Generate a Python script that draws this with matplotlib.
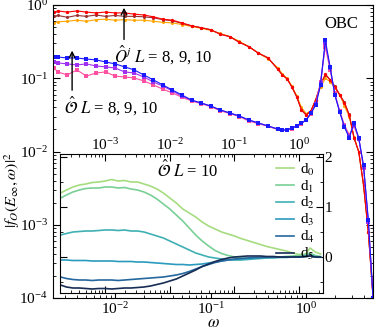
import matplotlib
matplotlib.use("Agg")
import matplotlib.pyplot as plt
import numpy as np
from matplotlib.ticker import MultipleLocator

plt.rcParams['font.family'] = ['Liberation Serif', 'DejaVu Serif']
plt.rcParams['mathtext.fontset'] = 'stix'

# main panel: log10(omega) grid and |f_O|^2 curves
logw_main = [-2.64, -2.6, -2.5, -2.4, -2.3, -2.2, -2.1, -2.0, -1.9, -1.8, -1.7, -1.6,
             -1.5, -1.4, -1.3, -1.2, -1.1, -1.0, -0.9, -0.8, -0.7, -0.6, -0.5, -0.4,
             -0.3, -0.25, -0.2, -0.15, -0.1, -0.05, 0.0, 0.05, 0.1, 0.15, 0.2, 0.25,
             0.3, 0.35, 0.4, 0.45, 0.5, 0.55, 0.6, 0.65, 0.7]

# O^j, L = 8, 9, 10
oj_L8 = [0.57, 0.59, 0.60, 0.62, 0.60, 0.63, 0.64, 0.62, 0.63, 0.62, 0.62, 0.60, 0.58, 0.57,
         0.54, 0.51, 0.48, 0.45, 0.41, 0.37, 0.32, 0.27, 0.22, 0.185, 0.14, 0.115, 0.10,
         0.078, 0.058, 0.040, 0.033, 0.036, 0.050, 0.075, 0.100, 0.090, 0.074, 0.060, 0.042,
         0.030, 0.016, 0.0098, 0.0035, 0.0008, 0.0001]
oj_L9 = [0.70, 0.72, 0.68, 0.72, 0.70, 0.73, 0.70, 0.72, 0.70, 0.70, 0.69, 0.67, 0.63, 0.61,
         0.56, 0.52, 0.49, 0.46, 0.40, 0.37, 0.31, 0.27, 0.22, 0.19, 0.134, 0.111, 0.098,
         0.076, 0.056, 0.037, 0.0315, 0.036, 0.051, 0.081, 0.112, 0.095, 0.078, 0.060, 0.047,
         0.032, 0.0155, 0.0099, 0.0035, 0.0008, 0.0001]
oj_L10 = [0.80, 0.83, 0.80, 0.83, 0.80, 0.78, 0.80, 0.78, 0.78, 0.75, 0.73, 0.69, 0.64, 0.62,
          0.57, 0.52, 0.49, 0.46, 0.40, 0.37, 0.31, 0.27, 0.22, 0.19, 0.134, 0.111, 0.098,
          0.076, 0.056, 0.037, 0.0315, 0.036, 0.051, 0.081, 0.114, 0.095, 0.076, 0.059, 0.046,
          0.0315, 0.0153, 0.0099, 0.0035, 0.0008, 0.0001]

# O, L = 8, 9, 10
o_L8 = [0.138, 0.122, 0.111, 0.130, 0.107, 0.118, 0.122, 0.107, 0.104, 0.101, 0.092, 0.081,
        0.071, 0.063, 0.055, 0.049, 0.045, 0.041, 0.036, 0.033, 0.030, 0.026, 0.024, 0.022,
        0.020, 0.0195, 0.0195, 0.0205, 0.022, 0.024, 0.027, 0.033, 0.045, 0.09, 0.27, 0.13,
        0.062, 0.036, 0.023, 0.017, 0.022, 0.015, 0.0060, 0.0011, 0.0001]
o_L9 = [0.167, 0.162, 0.157, 0.152, 0.157, 0.147, 0.143, 0.138, 0.122, 0.118, 0.104, 0.089,
        0.078, 0.067, 0.057, 0.050, 0.0459, 0.0418, 0.0369, 0.0336, 0.0305, 0.0269, 0.0245,
        0.0223, 0.0203, 0.0197, 0.0197, 0.0209, 0.0223, 0.0245, 0.0269, 0.0336, 0.044, 0.085,
        0.30, 0.14, 0.06, 0.035, 0.022, 0.016, 0.024, 0.015, 0.0062, 0.0011, 0.0001]
o_L10 = [0.195, 0.195, 0.189, 0.189, 0.183, 0.178, 0.167, 0.157, 0.143, 0.130, 0.111, 0.095,
         0.081, 0.069, 0.059, 0.0505, 0.0459, 0.0418, 0.0369, 0.0336, 0.0305, 0.0269, 0.0245,
         0.0223, 0.0203, 0.0197, 0.0197, 0.0209, 0.0223, 0.0245, 0.0269, 0.0336, 0.043, 0.081,
         0.333, 0.143, 0.059, 0.0346, 0.0216, 0.0153, 0.0245, 0.0153, 0.0065, 0.00116, 0.0001]

# inset: log10(omega) grid and d_n curves (L = 10)
logw_ins = [-3.69, -3.6, -3.5, -3.4, -3.3, -3.2, -3.1, -3.0, -2.9, -2.8, -2.7, -2.6, -2.5,
            -2.4, -2.3, -2.2, -2.1, -2.0, -1.9, -1.8, -1.7, -1.6, -1.5, -1.4, -1.3, -1.2,
            -1.1, -1.0, -0.9, -0.8, -0.7, -0.6, -0.5, -0.4, -0.3, -0.2, -0.1, 0.0, 0.1,
            0.17, 0.25, 0.33]
d0 = [1.28, 1.34, 1.40, 1.44, 1.46, 1.49, 1.50, 1.52, 1.55, 1.52, 1.53, 1.50, 1.50, 1.46,
      1.42, 1.36, 1.28, 1.18, 1.08, 0.96, 0.88, 0.80, 0.70, 0.62, 0.56, 0.50, 0.46, 0.42,
      0.37, 0.33, 0.29, 0.25, 0.21, 0.18, 0.15, 0.12, 0.08, 0.05, 0.06, 0.18, 0.10, 0.06]
d1 = [1.18, 1.24, 1.30, 1.34, 1.37, 1.38, 1.38, 1.40, 1.40, 1.38, 1.39, 1.36, 1.34, 1.30,
      1.24, 1.16, 1.06, 0.96, 0.84, 0.72, 0.58, 0.44, 0.32, 0.22, 0.13, 0.07, 0.03, 0.0,
      -0.02, -0.03, -0.02, -0.02, -0.01, 0.0, 0.0, 0.01, 0.02, 0.03, 0.05, 0.08, 0.03, 0.01]
d2 = [0.44, 0.47, 0.50, 0.51, 0.52, 0.52, 0.53, 0.54, 0.54, 0.53, 0.54, 0.52, 0.52, 0.50,
      0.46, 0.42, 0.38, 0.32, 0.26, 0.20, 0.14, 0.08, 0.04, 0.0, -0.02, -0.04, -0.05, -0.06,
      -0.06, -0.05, -0.04, -0.03, -0.02, -0.02, -0.01, -0.01, 0.0, 0.0, 0.02, 0.04, 0.01, 0.0]
d3 = [-0.06, -0.06, -0.07, -0.07, -0.07, -0.08, -0.08, -0.08, -0.08, -0.09, -0.09, -0.09,
      -0.10, -0.10, -0.11, -0.12, -0.13, -0.14, -0.15, -0.15, -0.16, -0.15, -0.14, -0.12,
      -0.10, -0.08, -0.06, -0.05, -0.04, -0.03, -0.02, -0.01, -0.01, 0.0, 0.0, 0.0, 0.0,
      0.0, 0.01, 0.02, 0.0, 0.0]
d4 = [-0.40, -0.43, -0.45, -0.46, -0.46, -0.47, -0.46, -0.46, -0.46, -0.47, -0.46, -0.45,
      -0.44, -0.43, -0.42, -0.41, -0.40, -0.38, -0.36, -0.33, -0.29, -0.24, -0.19, -0.15,
      -0.11, -0.08, -0.06, -0.04, -0.03, -0.02, -0.01, -0.01, 0.0, 0.0, 0.0, 0.0, 0.0, 0.0,
      0.01, 0.02, 0.0, 0.0]
d5 = [-0.56, -0.60, -0.62, -0.62, -0.63, -0.64, -0.63, -0.63, -0.64, -0.63, -0.62, -0.62,
      -0.61, -0.60, -0.58, -0.55, -0.52, -0.48, -0.44, -0.38, -0.32, -0.26, -0.19, -0.14,
      -0.09, -0.05, -0.02, 0.0, 0.01, 0.02, 0.02, 0.02, 0.01, 0.01, 0.0, 0.0, 0.0, 0.0,
      0.01, 0.02, 0.0, 0.0]
d_labels = ['d$_0$', 'd$_1$', 'd$_2$', 'd$_3$', 'd$_4$', 'd$_5$']
d_colors = ['#a6dc80', '#79cf95', '#3fb0b3', '#2a9bbf', '#25679e', '#172d55']

w_main = 10 ** np.array(logw_main)
w_ins = 10 ** np.array(logw_ins)

fig = plt.figure(figsize=(3.77, 3.30), dpi=100)
ax = fig.add_axes([53 / 377, 32 / 330, 320 / 377, 293 / 330])

# O^j curves
ax.plot(w_main, oj_L8, '-o', color='#ffa500', lw=0.8, ms=2.2, mew=0)
ax.plot(w_main, oj_L9, '-o', color='#9a2f2f', lw=0.8, ms=2.2, mew=0)
ax.plot(w_main, oj_L10, '-o', color='#ff0000', lw=0.8, ms=2.4, mew=0)
# O curves
ax.plot(w_main, o_L8, '-s', color='#ff4fa0', lw=0.8, ms=2.2, mew=0)
ax.plot(w_main, o_L9, '-s', color='#a030f0', lw=0.8, ms=2.2, mew=0)
ax.plot(w_main, o_L10, '-s', color='#1a1aff', lw=0.8, ms=2.4, mew=0)

ax.set_xscale('log')
ax.set_yscale('log')
ax.set_xlim(2.24e-3, 5.0)
ax.set_ylim(1e-4, 1.0)
ax.tick_params(which='both', direction='in', top=False, right=True, labelsize=11)
ax.tick_params(axis='x', pad=2)
ax.tick_params(which='major', length=5)
ax.tick_params(which='minor', length=2.5)
ax.set_xlabel(r'$\omega$', fontsize=12, va='baseline')
ax.xaxis.set_label_coords(0.5, -0.1)
ax.set_ylabel(r'$|f_O(E_\infty,\omega)|^2$', fontsize=11.5, va='center')
ax.yaxis.set_label_coords(-0.127, 0.37)

ax.text(2.32, 0.55, 'OBC', fontsize=12, ha='center', va='center')
ax.annotate('', xy=(0.0124, 1.0), xytext=(0.0124, 0.31),
            arrowprops=dict(arrowstyle='->', color='k', lw=1.0))
ax.text(0.0097, 0.21, r'$\hat{O}^j$ $L$ = 8, 9, 10', fontsize=12, va='center')
ax.annotate('', xy=(0.00355, 0.26), xytext=(0.00355, 0.063),
            arrowprops=dict(arrowstyle='->', color='k', lw=1.0))
ax.text(0.0029, 0.042, r'$\hat{\mathcal{O}}$ $L$ = 8, 9, 10', fontsize=12, va='center')

# inset
ins = fig.add_axes([60 / 377, 37 / 330, 263 / 377, 139 / 330])
for y, lab, c in zip([d0, d1, d2, d3, d4, d5], d_labels, d_colors):
    ins.plot(w_ins, y, color=c, lw=1.2, label=lab)
ins.set_xscale('log')
ins.set_xlim(2.0e-4, 2.34)
ins.set_ylim(-0.72, 2.06)
ins.yaxis.set_major_locator(MultipleLocator(1))
ins.yaxis.set_minor_locator(MultipleLocator(0.5))
ins.tick_params(which='both', direction='in', top=True, bottom=True, left=True, right=True,
                labeltop=True, labelbottom=False, labelleft=False, labelright=True,
                labelsize=11, pad=1)
ins.tick_params(which='major', length=5)
ins.tick_params(which='minor', length=2.5)
ins.text(0.0064, 1.74, r'$\hat{\mathcal{O}}$ $L$ = 10', fontsize=12, va='center')
ins.legend(loc='upper right', frameon=False, fontsize=11, handlelength=1.2,
           labelspacing=0.05, borderaxespad=0.1, handletextpad=0.4)

fig.savefig('out.png', dpi=100)
